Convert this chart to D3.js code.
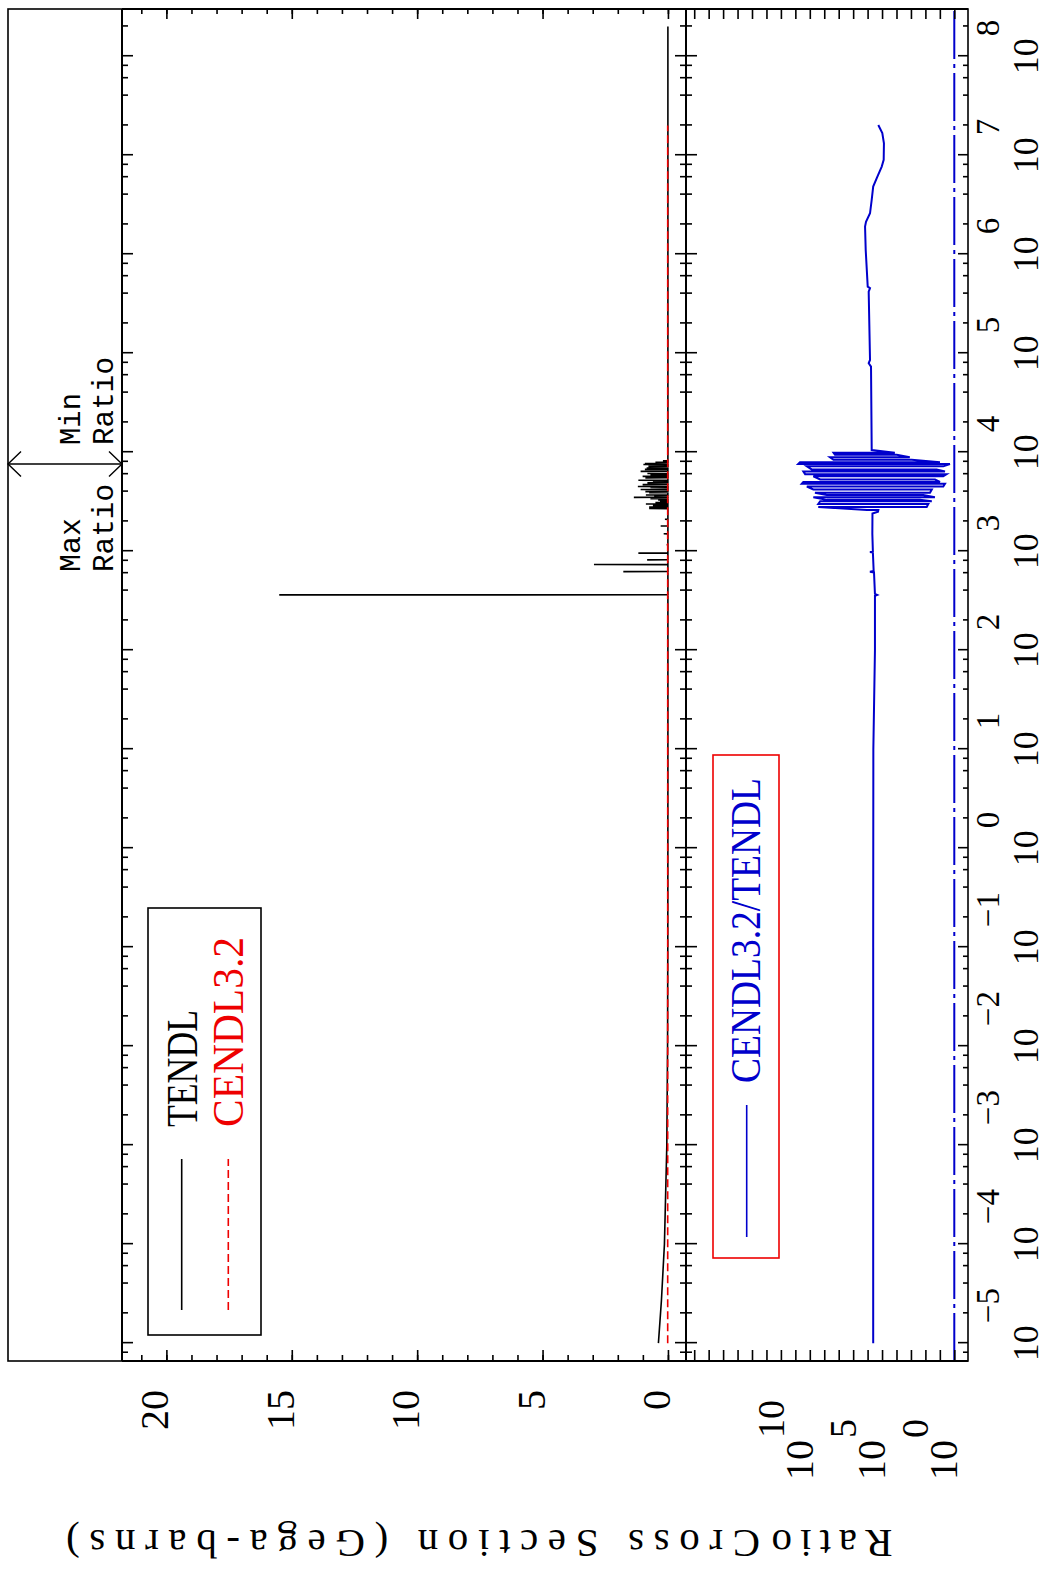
<!DOCTYPE html>
<html><head><meta charset="utf-8">
<script src="https://cdn.jsdelivr.net/npm/d3@7/dist/d3.min.js"></script>
<style>body{margin:0;background:#fff}svg{display:block}</style>
</head><body>
<script>
// ---------------- DATA ----------------
// TENDL smooth background (energy eV, cross section Gb)
const tendlE  = [1.0e-5, 2.7e-5, 1.0e-4, 1.0e-3, 1.0e-2, 1.0e-1, 1.0, 1.0e1, 1.0e2, 2.0e8];
const tendlXS = [0.38, 0.26, 0.14, 0.045, 0.015, 0.006, 0.003, 0.002, 0.002, 0.002];
// TENDL resonance peaks (energy eV, peak Gb)
const tendlPeakE  = [362, 622, 733, 817, 955, 1160, 1500, 1800, 2100, 2700, 2800, 2900, 3000, 3100, 3200, 3300, 3400, 3500, 3600, 3700, 3900, 4000, 4200, 4400, 4500, 4700, 4900, 5000, 5200, 5500, 5700, 5900, 6100, 6400, 6700, 6900, 7000, 7200, 7500, 7700, 7900, 8000, 8200];
const tendlPeakXS = [15.5, 1.78, 2.95, 0.83, 1.18, 0.05, 0.17, 0.29, 0.12, 0.75, 0.75, 0.6, 0.88, 0.5, 0.32, 0.39, 0.7, 1.36, 0.55, 0.88, 0.75, 0.9, 1.09, 0.7, 1.2, 1.01, 0.82, 0.6, 1.18, 0.9, 1.01, 0.7, 0.82, 1.09, 0.92, 0.85, 0.6, 0.78, 0.98, 0.92, 0.5, 0.08, 0.2];
const tendlBase = 0.002;
// CENDL3.2 (energy eV, cross section Gb)
const cendlE  = [1.0e-5, 1.0e-2, 1.0e1, 1.0e3, 1.0e5, 2.0e7];
const cendlXS = [0.01, 0.01, 0.01, 0.01, 0.01, 0.01];
// Ratio CENDL3.2/TENDL outside the resonance region (energy eV, ratio)
const ratioLowE = [1.0e-5, 1.0e-1, 1.0e1, 1.0e2, 3.55e2, 3.62e2, 3.7e2, 6.1e2, 6.2e2, 6.3e2, 9.7e2, 9.8e2, 9.9e2, 1.5e3, 2.4e3, 2.5e3];
const ratioLowR = [4.1e5, 4.1e5, 4.0e5, 3.1e5, 3.1e5, 2.2e5, 3.1e5, 3.6e5, 6.9e5, 3.8e5, 4.3e5, 6.9e5, 4.3e5, 4.7e5, 4.6e5, 1.9e5];
// Resonance region: energy, high ratio, low ratio
const resE  = [2.6e3, 2.8e3, 3.0e3, 3.2e3, 3.3e3, 3.5e3, 3.7e3, 3.9e3, 4.2e3, 4.5e3, 4.8e3, 5.0e3, 5.3e3, 5.7e3, 6.0e3, 6.4e3, 6.7e3, 7.2e3, 7.6e3, 7.9e3, 8.4e3, 8.9e3, 9.4e3, 9.9e3];
const resHi = [1.1e6, 2.6e9, 2.6e9, 1.9e9, 6.8e8, 5.7e9, 6.8e8, 4.4e9, 5.7e9, 1.6e10, 3.6e10, 2.8e10, 1.9e9, 5.7e9, 2.1e10, 2.8e10, 7.4e9, 1.6e10, 6.3e10, 4.8e10, 2.3e8, 4.0e8, 1.8e8, 2.3e8];
const resLo = [1.8e5, 81, 63, 36, 240, 22, 140, 48, 36, 5.8, 4.4, 9.8, 21.7, 5.8, 3.4, 4.4, 16.5, 5.8, 2.0, 9.8, 890, 1200, 9.7e3, 1.3e4];
const ratioHighE = [1.05e4, 7.33e4, 7.92e4, 8.55e4, 4.19e5, 4.54e5, 4.71e5, 1.10e6, 1.90e6, 2.13e6, 2.59e6, 3.53e6, 4.82e6, 6.08e6, 7.68e6, 8.97e6, 1.32e7, 1.67e7, 2.02e7];
const ratioHighR = [5.2e5, 5.8e5, 8.4e5, 6.8e5, 8.4e5, 6.8e5, 9.8e5, 1.35e6, 1.5e6, 1.29e6, 6.8e5, 5.2e5, 4.1e5, 2.1e5, 1.05e5, 7.7e4, 7.4e4, 9.6e4, 1.82e5];
// ticks / labels
const energyMajor = [1e-5,1e-4,1e-3,1e-2,1e-1,1e0,1e1,1e2,1e3,1e4,1e5,1e6,1e7,1e8];
const energyExp   = ["\u22125","\u22124","\u22123","\u22122","\u22121","0","1","2","3","4","5","6","7","8"];
const xsMajor = [0,5,10,15,20];
const xsLabels = ["0","5","10","15","20"];
const ratioTicks = [1e0,1e1,1e2,1e3,1e4,1e5,1e6,1e7,1e8,1e9,1e10,1e11,1e12,1e13,1e14,1e15,1e16,1e17,1e18];
const ratioLabelVals = [1e0, 1e5, 1e10];
const ratioLabelExp  = ["0","5","10"];

// ---------------- DRAW ----------------
const W = 1048, H = 1573;
const svg = d3.select("body").append("svg").attr("width", W).attr("height", H);
svg.append("rect").attr("width", W).attr("height", H).attr("fill", "#fff");
// Whole plot is drawn in landscape and rotated 90° counter-clockwise
const g = svg.append("g").attr("transform", `translate(0,${H}) rotate(-90)`);

const L = 212, R = 1564, T0 = 8, T1 = 122, MID = 686, B = 968;
const xE  = d3.scaleLog().domain([6.6e-6, 3.0e8]).range([L, R]);
const yXS = d3.scaleLinear().domain([-0.72, 21.77]).range([MID, T1]);
const yR  = d3.scaleLog().domain([0.1125, 3.7e18]).range([B, MID]);

const BLUE = "#0000cc", RED = "#ee0000";

const energyMinor = [];
for (let k = -6; k <= 8; k++) for (const m of [2,4,6,8]) {
  const v = m * Math.pow(10, k);
  if (v > xE.domain()[0] && v < xE.domain()[1]) energyMinor.push(v);
}
const xsMinor = d3.range(0, 22, 1);

// clip paths
const defs = svg.append("defs");
defs.append("clipPath").attr("id","cTop").append("rect").attr("x",L).attr("y",T1).attr("width",R-L).attr("height",MID-T1);
defs.append("clipPath").attr("id","cBot").append("rect").attr("x",L).attr("y",MID).attr("width",R-L).attr("height",B-MID);

// --- data: top panel
const tendlPts = tendlE.map((e,i)=>[e, tendlXS[i]]);
tendlPeakE.forEach((e,i)=>{
  tendlPts.push([e/1.002, tendlBase], [e, tendlPeakXS[i]], [e*1.002, tendlBase]);
});
tendlPts.sort((a,b)=>a[0]-b[0]);
const lineXS = d3.line().x(d=>xE(d[0])).y(d=>yXS(d[1]));
const topG = g.append("g").attr("clip-path","url(#cTop)");
topG.append("path").attr("d", lineXS(tendlPts)).attr("fill","none").attr("stroke","#000").attr("stroke-width",1.6);
topG.append("path").attr("d", lineXS(cendlE.map((e,i)=>[e,cendlXS[i]]))).attr("fill","none")
  .attr("stroke",RED).attr("stroke-width",1.6).attr("stroke-dasharray","8,4");

// --- data: ratio panel
const ratioPts = ratioLowE.map((e,i)=>[e, ratioLowR[i]]);
resE.forEach((e,i)=>{
  if (i % 2 === 0) ratioPts.push([e, resLo[i]], [e, resHi[i]]);
  else ratioPts.push([e, resHi[i]], [e, resLo[i]]);
});
ratioHighE.forEach((e,i)=>ratioPts.push([e, ratioHighR[i]]));
const lineR = d3.line().x(d=>xE(d[0])).y(d=>yR(d[1]));
const botG = g.append("g").attr("clip-path","url(#cBot)");
botG.append("path").attr("d", lineR([[xE.domain()[0],1],[xE.domain()[1],1]])).attr("fill","none")
  .attr("stroke",BLUE).attr("stroke-width",2).attr("stroke-dasharray","48,5,4,5");
botG.append("path").attr("d", lineR(ratioPts)).attr("fill","none").attr("stroke",BLUE).attr("stroke-width",2);

// --- frame
g.append("rect").attr("x",L).attr("y",T0).attr("width",R-L).attr("height",B-T0)
  .attr("fill","none").attr("stroke","#000").attr("stroke-width",1.6);
[T1, MID].forEach(v=>g.append("line").attr("x1",L).attr("x2",R).attr("y1",v).attr("y2",v).attr("stroke","#000").attr("stroke-width",2));
g.append("line").attr("x1",L).attr("x2",L).attr("y1",T1).attr("y2",B).attr("stroke","#000").attr("stroke-width",2);
g.append("line").attr("x1",R).attr("x2",R).attr("y1",T1).attr("y2",B).attr("stroke","#000").attr("stroke-width",2);

// --- ticks
function ticks(axisFn, scale, vals, size, tx, ty){
  g.append("g").attr("transform",`translate(${tx},${ty})`)
   .call(axisFn(scale).tickValues(vals).tickSize(size).tickFormat(""))
   .call(s=>{ s.select(".domain").remove(); s.selectAll("line").attr("stroke","#000").attr("stroke-width",1.6); });
}
ticks(d3.axisBottom, xE, energyMajor, 11, 0, T1);
ticks(d3.axisBottom, xE, energyMinor, 6, 0, T1);
ticks(d3.axisTop, xE, energyMajor, 11, 0, MID);
ticks(d3.axisTop, xE, energyMinor, 6, 0, MID);
ticks(d3.axisBottom, xE, energyMajor, 11, 0, MID);
ticks(d3.axisBottom, xE, energyMinor, 6, 0, MID);
ticks(d3.axisTop, xE, energyMajor, 10, 0, B);
ticks(d3.axisTop, xE, energyMinor, 5, 0, B);
ticks(d3.axisRight, yXS, xsMajor, 11, L, 0);
ticks(d3.axisRight, yXS, xsMinor, 6, L, 0);
ticks(d3.axisLeft, yXS, xsMajor, 10, R, 0);
ticks(d3.axisLeft, yXS, xsMinor, 5, R, 0);
ticks(d3.axisRight, yR, ratioTicks, 11, L, 0);
ticks(d3.axisLeft, yR, ratioTicks, 10, R, 0);

// --- tick labels
const SERIF = "'Liberation Serif','DejaVu Serif',serif";
const MONO = "'Liberation Mono','DejaVu Sans Mono',monospace";
energyMajor.forEach((v,i)=>{
  const t = g.append("text").attr("x", xE(v) - 18).attr("y", 1038)
    .attr("font-family", SERIF).attr("font-size", 36).attr("fill","#000");
  t.append("tspan").text("10");
  t.append("tspan").attr("dx", 2).attr("dy", -39).attr("font-size", 33).text(energyExp[i]);
});
xsMajor.forEach((v,i)=>{
  g.append("text").attr("x", 183).attr("y", yXS(v) + 2).attr("text-anchor","end")
    .attr("font-family", SERIF).attr("font-size", 40).attr("fill","#000").text(xsLabels[i]);
});
ratioLabelVals.forEach((v,i)=>{
  const t = g.append("text").attr("x", 93).attr("y", yR(v) + 3)
    .attr("font-family", SERIF).attr("font-size", 40).attr("fill","#000");
  t.append("tspan").text("10");
  t.append("tspan").attr("dx", 2).attr("dy", -29).attr("font-size", 38).text(ratioLabelExp[i]);
});

// --- axis titles
g.append("text").attr("transform","translate(43,413) rotate(-90)").attr("text-anchor","middle")
  .attr("font-family", SERIF).attr("font-size", 41).attr("textLength", 694).attr("lengthAdjust","spacing")
  .text("Cross Section (Gega-barns)");
g.append("text").attr("transform","translate(43,832) rotate(-90)").attr("text-anchor","middle")
  .attr("font-family", SERIF).attr("font-size", 41).attr("textLength", 121).attr("lengthAdjust","spacing")
  .text("Ratio");

// --- legend top
g.append("rect").attr("x",238).attr("y",148).attr("width",665-238).attr("height",261-148)
  .attr("fill","#fff").attr("stroke","#000").attr("stroke-width",1.6);
g.append("line").attr("x1",263).attr("x2",414).attr("y1",181.7).attr("y2",181.7).attr("stroke","#000").attr("stroke-width",1.6);
g.append("line").attr("x1",263).attr("x2",414).attr("y1",228.3).attr("y2",228.3).attr("stroke",RED).attr("stroke-width",1.6).attr("stroke-dasharray","8,4");
g.append("text").attr("x",446).attr("y",196.5).attr("font-family",SERIF).attr("font-size",44)
  .attr("textLength",117).attr("lengthAdjust","spacingAndGlyphs").attr("fill","#000").text("TENDL");
g.append("text").attr("x",446).attr("y",243).attr("font-family",SERIF).attr("font-size",44)
  .attr("textLength",190).attr("lengthAdjust","spacingAndGlyphs").attr("fill",RED).text("CENDL3.2");

// --- legend ratio
g.append("rect").attr("x",315).attr("y",713).attr("width",818-315).attr("height",779-713)
  .attr("fill","#fff").attr("stroke",RED).attr("stroke-width",1.6);
g.append("line").attr("x1",336).attr("x2",468).attr("y1",746.7).attr("y2",746.7).attr("stroke",BLUE).attr("stroke-width",1.6);
g.append("text").attr("x",490).attr("y",760).attr("font-family",SERIF).attr("font-size",42)
  .attr("textLength",305).attr("lengthAdjust","spacingAndGlyphs").attr("fill",BLUE).text("CENDL3.2/TENDL");

// --- max / min ratio arrow
const AU = 1109;
g.append("line").attr("x1",AU).attr("x2",AU).attr("y1",T0).attr("y2",T1).attr("stroke","#000").attr("stroke-width",1.6);
g.append("path").attr("d",`M${AU-12.5},${T0+13}L${AU},${T0}L${AU+12.5},${T0+13}M${AU-12.5},${T1-13}L${AU},${T1}L${AU+12.5},${T1-13}`)
  .attr("fill","none").attr("stroke","#000").attr("stroke-width",1.4);
[["Min",1128,80,52],["Ratio",1128,113,88],["Max",1001,80,54],["Ratio",1001,113,88]].forEach(d=>{
  g.append("text").attr("x",d[1]).attr("y",d[2]).attr("font-family",MONO).attr("font-size",30)
    .attr("textLength",d[3]).attr("lengthAdjust","spacingAndGlyphs").attr("fill","#000").text(d[0]);
});
</script>
</body></html>
